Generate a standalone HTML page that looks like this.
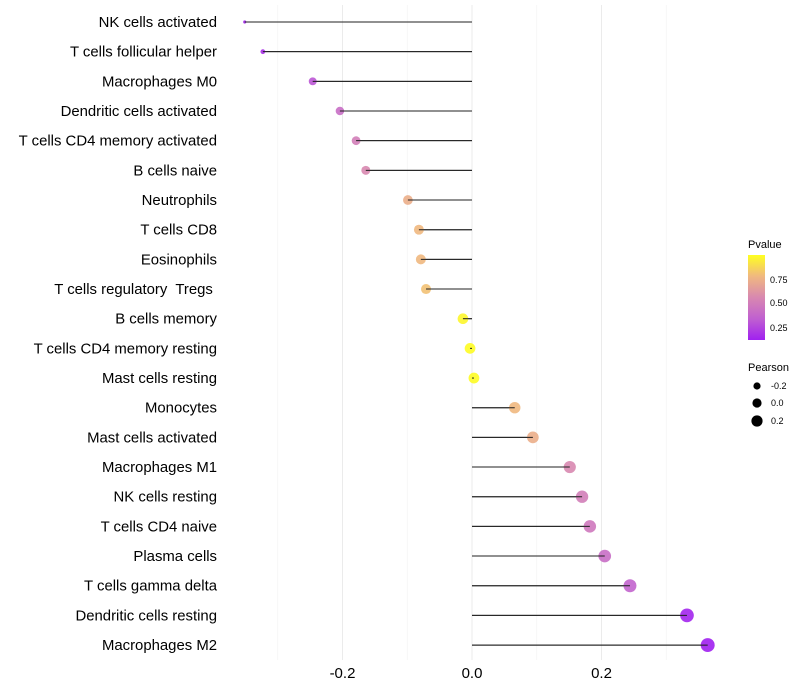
<!DOCTYPE html>
<html><head><meta charset="utf-8"><style>
body{margin:0;background:#fff;}
svg{display:block;font-family:"Liberation Sans",sans-serif;}
text{white-space:pre;}
</style></head><body>
<svg id="chart" width="800" height="700">
<g id="grid"></g>
<g id="rows"></g>
<g id="xaxis"></g>
<g id="legend">
<defs><linearGradient id="pg" x1="0" y1="1" x2="0" y2="0">
<stop offset="0" stop-color="#a020f0"/><stop offset="0.25" stop-color="#c060d0"/><stop offset="0.5" stop-color="#d888b0"/><stop offset="0.75" stop-color="#f0b880"/><stop offset="1" stop-color="#ffff20"/></linearGradient></defs>
<text x="748" y="248" font-size="11">Pvalue</text>
<rect x="748" y="255" width="17" height="85" fill="url(#pg)"/>
<text x="770" y="283" font-size="9">0.75</text>
<text x="770" y="306" font-size="9">0.50</text>
<text x="770" y="331" font-size="9">0.25</text>
<text x="748" y="371" font-size="11">Pearson</text>
<circle cx="757" cy="386" r="3.6" fill="#000"/>
<circle cx="757" cy="403" r="4.6" fill="#000"/>
<circle cx="757" cy="421" r="5.6" fill="#000"/>
<text x="771" y="389" font-size="9">-0.2</text>
<text x="771" y="406" font-size="9">0.0</text>
<text x="771" y="424" font-size="9">0.2</text>
</g>
</svg>
<script>
const cells=["NK cells activated","T cells follicular helper","Macrophages M0","Dendritic cells activated","T cells CD4 memory activated","B cells naive","Neutrophils","T cells CD8","Eosinophils","T cells regulatory  Tregs ","B cells memory","T cells CD4 memory resting","Mast cells resting","Monocytes","Mast cells activated","Macrophages M1","NK cells resting","T cells CD4 naive","Plasma cells","T cells gamma delta","Dendritic cells resting","Macrophages M2"];
const pearson=[-0.351,-0.323,-0.246,-0.204,-0.179,-0.164,-0.099,-0.082,-0.079,-0.071,-0.014,-0.003,0.003,0.066,0.094,0.151,0.170,0.182,0.205,0.244,0.332,0.364];
const pvalue=[0.12,0.15,0.27,0.37,0.45,0.5,0.7,0.75,0.75,0.78,0.97,0.99,0.99,0.75,0.7,0.5,0.45,0.42,0.37,0.32,0.12,0.08];
const xTicks=[-0.2,0.0,0.2];
const xMinor=[-0.3,-0.1,0.1,0.3];
const NS="http://www.w3.org/2000/svg";
const x=v=>472+v*647.5;
const y=i=>22+i*29.67;
const rad=v=>Math.sqrt(Math.max(2.5,29+54*v-(v<-0.3?(-0.3-v)*250:0)));
const stops=[[0.1,[160,32,240]],[0.3,[192,96,208]],[0.5,[216,136,176]],[0.75,[240,184,128]],[1.0,[255,255,32]]];
function col(p){p=Math.max(0.1,Math.min(1,p));for(let k=1;k<stops.length;k++){if(p<=stops[k][0]){const a=stops[k-1],b=stops[k],t=(p-a[0])/(b[0]-a[0]);return "rgb("+a[1].map((c,j)=>Math.round(c+(b[1][j]-c)*t)).join(",")+")";}}return "rgb(255,255,32)";}
function mk(tag,attrs,parent){const e=document.createElementNS(NS,tag);for(const k in attrs)e.setAttribute(k,attrs[k]);parent.appendChild(e);return e;}
const grid=document.getElementById('grid'),rows=document.getElementById('rows'),xa=document.getElementById('xaxis');
xMinor.forEach(v=>{const l=mk('line',{x1:x(v),x2:x(v),y1:5,y2:660,stroke:'#f2f2f2','stroke-width':0.6},grid);

});
xTicks.forEach(v=>{const l=mk('line',{x1:x(v),x2:x(v),y1:5,y2:660,stroke:'#ebebeb','stroke-width':1},grid);


const t=mk('text',{x:x(v),y:678,'font-size':15,'text-anchor':'middle',fill:'#000'},xa);t.textContent=v.toFixed(1);

});
cells.forEach((c,i)=>{const l=mk('text',{x:217,y:y(i)+5,'font-size':14.9,'text-anchor':'end',fill:'#000'},rows);l.textContent=c;


const s=mk('line',{x1:x(0),x2:x(pearson[i]),y1:y(i),y2:y(i),stroke:'#222','stroke-width':1},rows);


const d=mk('circle',{cx:x(pearson[i]),cy:y(i),r:rad(pearson[i]),fill:col(pvalue[i]),'fill-opacity':0.9},rows);


const s2=mk('line',{x1:x(0),x2:x(pearson[i]),y1:y(i),y2:y(i),stroke:'#222','stroke-width':1},rows);

});
</script>
</body></html>
